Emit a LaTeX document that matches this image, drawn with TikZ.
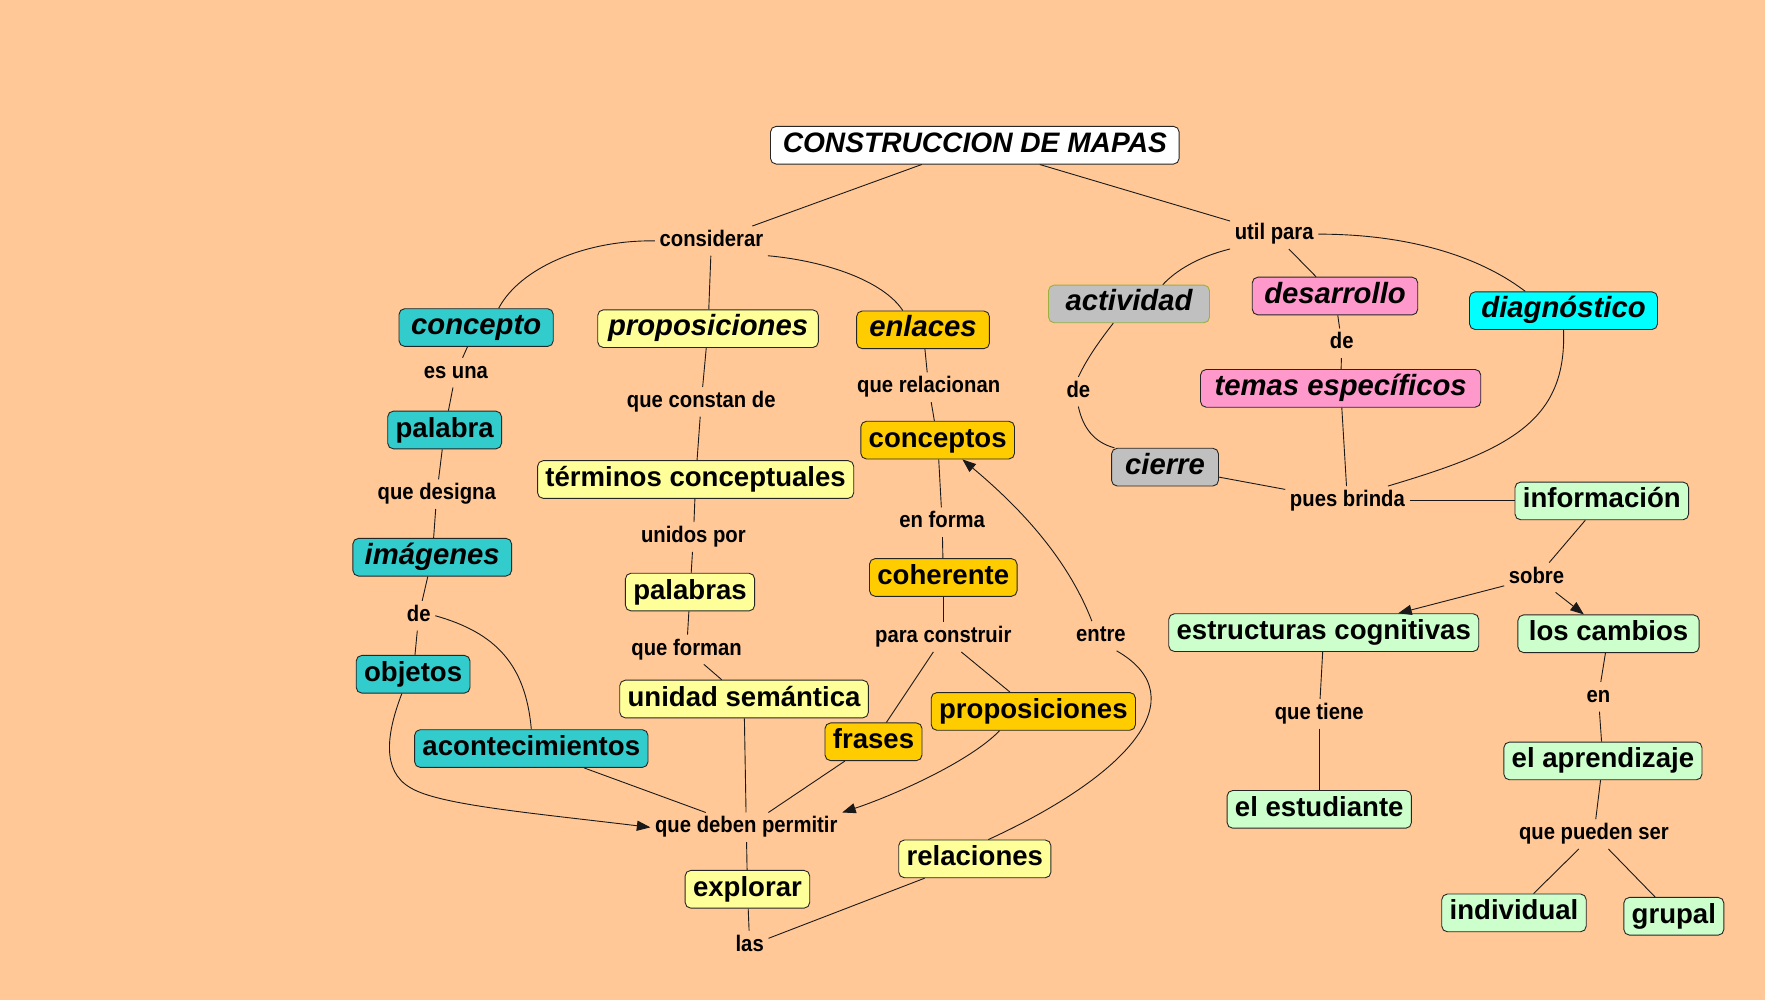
\documentclass[tikz,border=0pt]{standalone}
\usepackage{fontspec}
\setmainfont{Liberation Sans}
\newfontfamily\linkfont[FakeStretch=0.9]{Liberation Sans}
\usetikzlibrary{arrows.meta, positioning}
\definecolor{mapbg}{HTML}{FFC896}
\definecolor{cteal}{HTML}{33CCCC}
\definecolor{cyellow}{HTML}{FFFF99}
\definecolor{cgold}{HTML}{FFCC00}
\definecolor{cgray}{HTML}{C0C0C0}
\definecolor{cpink}{HTML}{FF99CC}
\definecolor{ccyan}{HTML}{00FFFF}
\definecolor{cgreen}{HTML}{CCFFCC}
\definecolor{actborder}{HTML}{9CB040}

\begin{document}
\begin{tikzpicture}[
    x=1pt, y=-1pt,
    concept/.style={rectangle, rounded corners=5pt, draw=black!85, line width=0.8pt, fill=#1, inner xsep=7pt, inner ysep=5pt, text height=18pt, text depth=5.5pt, font=\fontsize{24.5}{28}\selectfont\bfseries},
    iconcept/.style={concept=#1, font=\fontsize{26}{30}\selectfont\bfseries\itshape},
    linkw/.style={font=\linkfont\fontsize{20}{24}\selectfont\bfseries, inner sep=4pt, text height=14pt, text depth=4pt},
    conn/.style={line width=0.8pt, draw=black!90},
    arr/.style={conn, -{Triangle[length=12pt,width=9pt]}}
]
\fill[mapbg] (0,0) rectangle (1568,888);
\useasboundingbox (0,0) rectangle (1568,888);

\node[iconcept=white, minimum width=363pt, font=\fontsize{25}{30}\selectfont\bfseries\itshape] (title) at (866,129) {CONSTRUCCION DE MAPAS};

\node[iconcept=cteal, minimum width=137pt] (concepto) at (423,291) {concepto};
\node[iconcept=cyellow, minimum width=196pt] (propos) at (629,292) {proposiciones};
\node[iconcept=cgold, minimum width=118pt] (enlaces) at (820,293) {enlaces};
\node[iconcept=cgray, draw=actborder, minimum width=143pt] (actividad) at (1003,270) {actividad};
\node[iconcept=cpink, minimum width=147pt] (desarrollo) at (1186,263) {desarrollo};
\node[iconcept=ccyan, minimum width=167pt] (diagnostico) at (1389,276) {diagnóstico};
\node[iconcept=cpink, minimum width=249pt] (temas) at (1191,345) {temas específicos};
\node[iconcept=cgray, minimum width=95pt] (cierre) at (1035,415) {cierre};
\node[iconcept=cteal, minimum width=141pt] (imagenes) at (384,495) {imágenes};

\node[concept=cgreen] (informacion) at (1423,445) {información};
\node[concept=cteal] (palabra) at (395,382) {palabra};
\node[concept=cyellow] (terminos) at (618,426) {términos conceptuales};
\node[concept=cgold] (conceptos) at (833,391) {conceptos};
\node[concept=cyellow] (palabras) at (613,526) {palabras};
\node[concept=cgold] (coherente) at (838,513) {coherente};
\node[concept=cteal] (objetos) at (367,599) {objetos};
\node[concept=cyellow] (unidad) at (661,621) {unidad semántica};
\node[concept=cgold] (frases) at (776,659) {frases};
\node[concept=cgold] (propos2) at (918,632) {proposiciones};
\node[concept=cteal] (acontec) at (472,665) {acontecimientos};
\node[concept=cyellow] (explorar) at (664,790) {explorar};
\node[concept=cyellow] (relaciones) at (866,763) {relaciones};
\node[concept=cgreen] (estructuras) at (1176,562) {estructuras cognitivas};
\node[concept=cgreen, minimum width=161pt] (cambios) at (1429,563) {los cambios};
\node[concept=cgreen] (estudiante) at (1172,719) {el estudiante};
\node[concept=cgreen] (aprendizaje) at (1424,676) {el aprendizaje};
\node[concept=cgreen] (individual) at (1345,811) {individual};
\node[concept=cgreen] (grupal) at (1487,814) {grupal};

\node[linkw] (lconsiderar) at (632,214) {considerar};
\node[linkw] (lutil) at (1132,208) {util para};
\node[linkw] (lesuna) at (405,331) {es una};
\node[linkw] (lconstan) at (623,357) {que constan de};
\node[linkw] (lrelacionan) at (825,344) {que relacionan};
\node[linkw] (lde1) at (958,348) {de};
\node[linkw] (lde2) at (1192,305) {de};
\node[linkw] (ldesigna) at (388,439) {que designa};
\node[linkw] (lunidos) at (616,477) {unidos por};
\node[linkw] (lenforma) at (837,464) {en forma};
\node[linkw] (lbrinda) at (1197,445) {pues brinda};
\node[linkw] (lde3) at (372,547) {de};
\node[linkw] (lforman) at (610,577) {que forman};
\node[linkw] (lconstruir) at (838,566) {para construir};
\node[linkw] (lentre) at (978,565) {entre};
\node[linkw] (lsobre) at (1365,513) {sobre};
\node[linkw] (lpermitir) at (663,735) {que deben permitir};
\node[linkw] (llas) at (666,840) {las};
\node[linkw] (ltiene) at (1172,634) {que tiene};
\node[linkw] (len) at (1420,619) {en};
\node[linkw] (lpueden) at (1416,741) {que pueden ser};

\draw[conn] (title) -- (lconsiderar);
\draw[conn] (title) -- (lutil);
\draw[conn] (lconsiderar.west) .. controls (520,213) and (462,238) .. ([xshift=20pt]concepto.north);
\draw[conn] (lconsiderar) -- (propos);
\draw[conn] (lconsiderar.south east) .. controls (735,232) and (785,250) .. ([xshift=-18pt]enlaces.north);
\draw[conn] (concepto) -- (lesuna);
\draw[conn] (lesuna) -- (palabra);
\draw[conn] (palabra) -- (ldesigna);
\draw[conn] (ldesigna) -- (imagenes);
\draw[conn] (imagenes) -- (lde3);
\draw[conn] (lde3) -- (objetos);
\draw[conn] (lde3.east) .. controls (440,562) and (467,590) .. (acontec.north);
\draw[conn] (propos) -- (lconstan);
\draw[conn] (lconstan) -- (terminos);
\draw[conn] (terminos) -- (lunidos);
\draw[conn] (lunidos) -- (palabras);
\draw[conn] (palabras) -- (lforman);
\draw[conn] (lforman) -- (unidad);
\draw[conn] (enlaces) -- (lrelacionan);
\draw[conn] (lrelacionan) -- (conceptos);
\draw[conn] (conceptos) -- (lenforma);
\draw[conn] (lenforma) -- (coherente);
\draw[conn] (coherente) -- (lconstruir);
\draw[conn] (lconstruir) -- (frases);
\draw[conn] (lconstruir) -- (propos2);
\draw[arr] ([xshift=-8pt]lentre.north) .. controls (948,495) and (905,450) .. ([xshift=22pt]conceptos.south);
\draw[conn] ([xshift=12pt]relaciones.north) .. controls (1000,690) and (1065,620) .. ([xshift=14pt]lentre.south);
\draw[arr] ([xshift=-10pt]objetos.south) .. controls (344,650) and (338,685) .. (365,700) .. controls (390,715) and (470,722) .. (lpermitir.west);
\draw[conn] (acontec) -- (lpermitir);
\draw[conn] (unidad) -- (lpermitir);
\draw[conn] (frases) -- (lpermitir);
\draw[arr] ([xshift=-30pt]propos2.south) .. controls (860,678) and (790,708) .. (lpermitir.north east);
\draw[conn] (lpermitir) -- (explorar);
\draw[conn] (explorar) -- (llas);
\draw[conn] (relaciones) -- (llas);
\draw[conn] (lutil.south west) .. controls (1065,228) and (1045,240) .. ([xshift=30pt]actividad.north);
\draw[conn] (lutil) -- (desarrollo);
\draw[conn] (lutil.east) .. controls (1260,208) and (1320,232) .. ([xshift=-34pt]diagnostico.north);
\draw[conn] (desarrollo) -- (lde2);
\draw[conn] (lde2) -- (temas);
\draw[conn] ([xshift=-14pt]actividad.south) .. controls (975,305) and (965,320) .. (lde1.north);
\draw[conn] (lde1.south) .. controls (962,380) and (972,393) .. ([xshift=-45pt]cierre.north);
\draw[conn] (cierre) -- (lbrinda);
\draw[conn] (temas) -- (lbrinda);
\draw[conn] (diagnostico.south) .. controls (1392,375) and (1340,400) .. ([xshift=36pt]lbrinda.north);
\draw[conn] (lbrinda) -- (informacion);
\draw[conn] (informacion) -- (lsobre);
\draw[arr] (lsobre) -- (estructuras);
\draw[arr] (lsobre) -- (cambios);
\draw[conn] (estructuras) -- (ltiene);
\draw[conn] (ltiene) -- (estudiante);
\draw[conn] (cambios) -- (len);
\draw[conn] (len) -- (aprendizaje);
\draw[conn] (aprendizaje) -- (lpueden);
\draw[conn] (lpueden) -- (individual);
\draw[conn] (lpueden) -- (grupal);
\end{tikzpicture}
\end{document}
